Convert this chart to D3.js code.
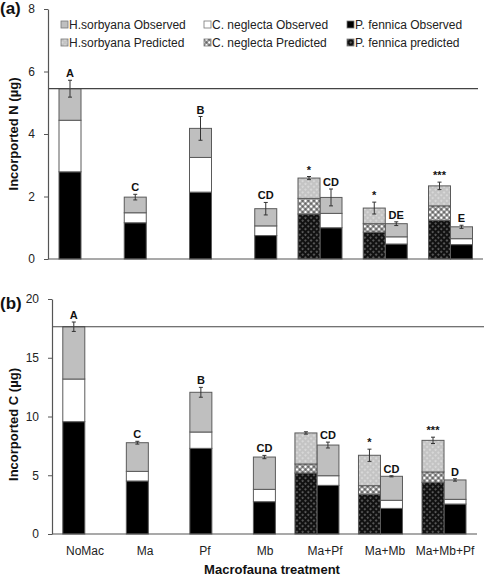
<!DOCTYPE html>
<html><head><meta charset="utf-8">
<script src="https://cdn.jsdelivr.net/npm/d3@7"></script>
<style>body{margin:0;background:#fff}svg{display:block;font-family:"Liberation Sans",Arial,sans-serif}</style>
</head><body><svg id="c" width="484" height="579"></svg>
<script>
const categories = ["NoMac","Ma","Pf","Mb","Ma+Pf","Ma+Mb","Ma+Mb+Pf"];
const predCategories = ["Ma+Pf","Ma+Mb","Ma+Mb+Pf"];
const legendObserved = ["H.sorbyana Observed","C. neglecta Observed","P. fennica Observed"];
const legendPredicted = ["H.sorbyana Predicted","C. neglecta Predicted","P. fennica predicted"];

// Panel (a): incorporated N
const nTicks = [0,2,4,6,8];
const nObsFennica  = [2.79,1.16,2.14,0.75,1.00,0.48,0.46];
const nObsNeglecta = [1.65,0.32,1.11,0.31,0.46,0.23,0.19];
const nObsSorbyana = [1.01,0.50,0.93,0.55,0.51,0.42,0.38];
const nObsErr      = [0.27,0.09,0.38,0.20,0.27,0.06,0.05];
const nObsLabels   = ["A","C","B","CD","CD","DE","E"];
const nPredFennica  = [1.44,0.86,1.23];
const nPredNeglecta = [0.50,0.27,0.47];
const nPredSorbyana = [0.65,0.50,0.64];
const nPredErr      = [0.05,0.19,0.12];
const nPredLabels   = ["*","*","***"];
const nRef = 5.45;

// Panel (b): incorporated C
const cTicks = [0,5,10,15,20];
const cObsFennica  = [9.56,4.51,7.29,2.75,4.14,2.18,2.55];
const cObsNeglecta = [3.63,0.82,1.39,1.05,0.82,0.69,0.40];
const cObsSorbyana = [4.45,2.44,3.38,2.75,2.61,2.04,1.65];
const cObsErr      = [0.40,0.12,0.42,0.14,0.25,0.05,0.10];
const cObsLabels   = ["A","C","B","CD","CD","CD","D"];
const cPredFennica  = [5.19,3.38,4.40];
const cPredNeglecta = [0.77,0.73,0.88];
const cPredSorbyana = [2.64,2.59,2.69];
const cPredErr      = [0.10,0.52,0.27];
const cPredLabels   = ["","*","***"];
const cRef = 17.64;

const svg = d3.select("#c");
const defs = svg.append("defs");
function pat(id, bg, draw){
  const p = defs.append("pattern").attr("id",id).attr("patternUnits","userSpaceOnUse")
    .attr("width",4).attr("height",4).attr("patternTransform","rotate(45)");
  p.append("rect").attr("width",4).attr("height",4).attr("fill",bg);
  draw(p);
}
pat("hFen","#111",p=>p.append("rect").attr("x",1.4).attr("y",1.4).attr("width",1.3).attr("height",1.3).attr("fill","#b0b0b0"));
pat("hNeg","#fff",p=>p.append("path").attr("d","M0,0H4M0,0V4M0,4H4M4,0V4").attr("stroke","#222").attr("stroke-width",0.9));
pat("hSor","#c4c4c4",p=>p.append("rect").attr("x",1.4).attr("y",1.4).attr("width",1.3).attr("height",1.3).attr("fill","#f2f2f2"));

const obsFill = ["#000","#fff","#bfbfbf"];
const predFill = ["url(#hFen)","url(#hNeg)","url(#hSor)"];
const BW = 22;

function panel(o){
  const x = d3.scalePoint().domain(categories).range(o.xr);
  const y = d3.scaleLinear().domain([0,o.ticks[o.ticks.length-1]]).range([o.y0,o.y1]);
  const g = svg.append("g");
  function stack(cat, vals, err, lab, fills, dx){
    let base = 0;
    vals.forEach((v,i)=>{
      g.append("rect").attr("x",x(cat)+dx).attr("width",BW)
        .attr("y",y(base+v)).attr("height",y(base)-y(base+v))
        .attr("fill",fills[i]).attr("stroke","#5a5a5a").attr("stroke-width",1);
      base += v;
    });
    const cx = x(cat)+dx+BW/2;
    g.append("line").attr("x1",cx).attr("x2",cx).attr("y1",y(base-err)).attr("y2",y(base+err)).attr("stroke","#333");
    [base-err,base+err].forEach(e=>g.append("line").attr("x1",cx-2).attr("x2",cx+2).attr("y1",y(e)).attr("y2",y(e)).attr("stroke","#333"));
    if(lab) g.append("text").attr("x",cx).attr("y",y(base+err)-3).attr("text-anchor","middle")
      .attr("font-size",11).attr("font-weight","bold").attr("fill","#111").text(lab);
  }
  categories.forEach((c,i)=>stack(c,[o.obs[0][i],o.obs[1][i],o.obs[2][i]],o.obsErr[i],o.obsLab[i],obsFill,-BW/2));
  predCategories.forEach((c,i)=>stack(c,[o.pred[0][i],o.pred[1][i],o.pred[2][i]],o.predErr[i],o.predLab[i],predFill,-BW*1.5));
  // baseline and reference line
  g.append("line").attr("x1",o.ax).attr("x2",o.baseEnd).attr("y1",y(0)).attr("y2",y(0)).attr("stroke","#555").attr("stroke-width",1.2);
  g.append("line").attr("x1",o.ax).attr("x2",o.refEnd).attr("y1",y(o.ref)).attr("y2",y(o.ref)).attr("stroke","#444").attr("stroke-width",1.2);
  const ax = g.append("g").attr("transform",`translate(${o.ax},0)`)
    .call(d3.axisLeft(y).tickValues(o.ticks).tickSize(4).tickSizeOuter(0).tickPadding(9));
  ax.select(".domain").attr("stroke","#555").attr("stroke-width",1.2);
  ax.selectAll(".tick line").attr("stroke","#555");
  ax.selectAll("text").attr("font-size",12).attr("fill","#222").attr("font-family","Liberation Sans, Arial, sans-serif");
  svg.append("text").attr("transform",`translate(18,${(o.y0+o.y1)/2+ (o.titleDy||0)}) rotate(-90)`)
    .attr("text-anchor","middle").attr("font-size",13).attr("font-weight","bold").attr("fill","#111").text(o.title);
  svg.append("text").attr("x",0).attr("y",o.tagY).attr("font-size",17).attr("font-weight","bold").attr("fill","#111").text(o.tag);
  return {x,y};
}

panel({xr:[70,461.5],ticks:nTicks,y0:259,y1:9,ax:48,baseEnd:483,refEnd:478,ref:nRef,
  obs:[nObsFennica,nObsNeglecta,nObsSorbyana],obsErr:nObsErr,obsLab:nObsLabels,
  pred:[nPredFennica,nPredNeglecta,nPredSorbyana],predErr:nPredErr,predLab:nPredLabels,
  title:"Incorported N (µg)",titleDy:0,tag:"(a)",tagY:14});

panel({xr:[73.8,455],ticks:cTicks,y0:534,y1:299,ax:52,baseEnd:477,refEnd:484,ref:cRef,
  obs:[cObsFennica,cObsNeglecta,cObsSorbyana],obsErr:cObsErr,obsLab:cObsLabels,
  pred:[cPredFennica,cPredNeglecta,cPredSorbyana],predErr:cPredErr,predLab:cPredLabels,
  title:"Incorported C (µg)",titleDy:8,tag:"(b)",tagY:309});

// category labels (panel b)
const xl = d3.scalePoint().domain(categories).range([85,445]);
svg.append("g").selectAll("text").data(categories).join("text")
  .attr("x",d=>xl(d)).attr("y",555).attr("text-anchor","middle").attr("font-size",12).attr("fill","#222").text(d=>d);
svg.append("text").attr("x",272).attr("y",574).attr("text-anchor","middle").attr("font-size",13)
  .attr("font-weight","bold").attr("fill","#111").text("Macrofauna treatment");

// legend
const legX = [61,204,347];
const leg = svg.append("g");
[legendObserved,legendPredicted].forEach((row,r)=>{
  const fills = r===0 ? [obsFill[2],obsFill[1],obsFill[0]] : [predFill[2],predFill[1],predFill[0]];
  row.forEach((t,i)=>{
    const yy = r===0 ? 25 : 43;
    leg.append("rect").attr("x",legX[i]).attr("y",yy-4).attr("width",7).attr("height",7)
      .attr("fill",fills[i]).attr("stroke","#777").attr("stroke-width",0.8);
    leg.append("text").attr("x",legX[i]+8).attr("y",yy+4).attr("font-size",12).attr("fill","#222").text(t);
  });
});
</script></body></html>
